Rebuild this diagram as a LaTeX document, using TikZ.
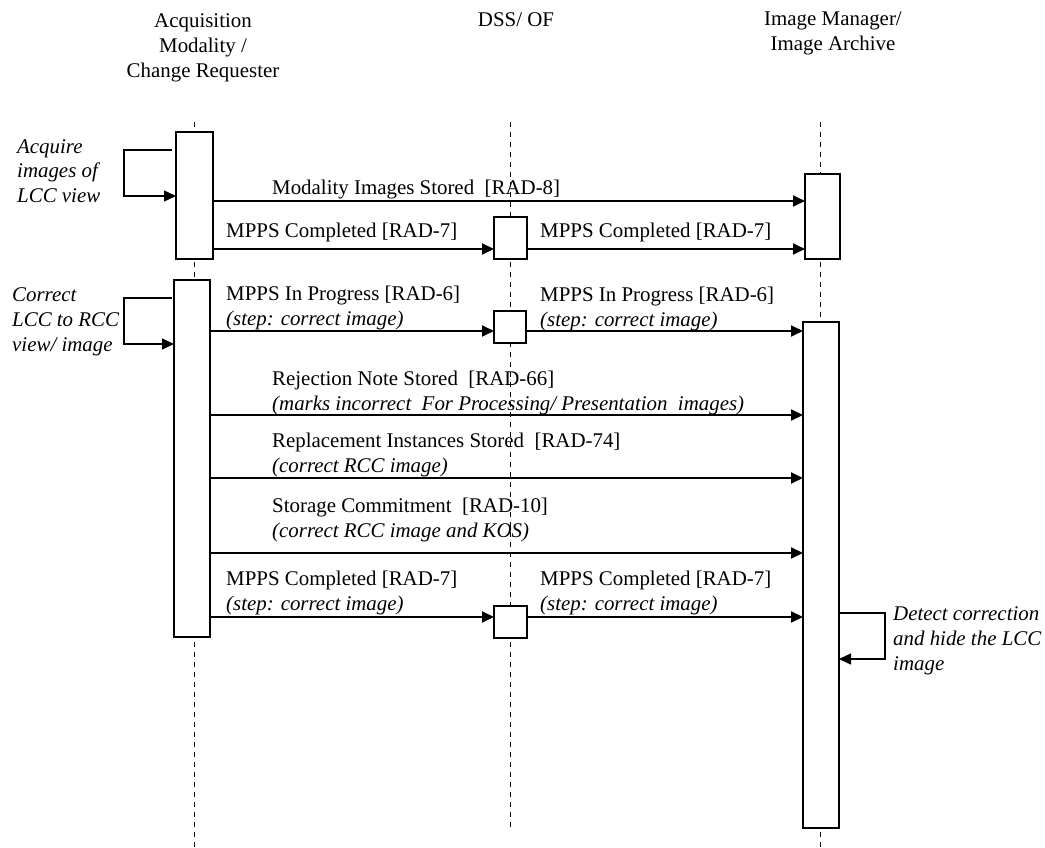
\documentclass[tikz,border=0pt]{standalone}
\usepackage{fontspec}
\setmainfont{Liberation Serif}
\usetikzlibrary{arrows.meta}
\newcommand\seqfont{\fontsize{20.9}{25}\selectfont}
\tikzset{
  lifeline/.style={line width=1pt, dash pattern=on 5pt off 5pt},
  actbox/.style={draw, fill=white, line width=1.3pt, anchor=north west, inner sep=0pt, outer sep=0pt},
  msg/.style={line width=1.8pt, -{Triangle[length=12pt,width=11pt]}},
  selfmsg/.style={line width=1.3pt, -{Triangle[length=12pt,width=11pt]}},
  lbl/.style={anchor=base west, inner sep=0pt, font=\seqfont, align=left},
  note/.style={lbl, font=\seqfont\itshape},
  head/.style={anchor=base, inner sep=0pt, font=\seqfont, align=center},
}
\begin{document}
\begin{tikzpicture}[x=1pt, y=-1pt]
  \useasboundingbox (0,0) rectangle (1045,848);
  % lifelines
  \coordinate (laneA) at (194.5,122);
  \coordinate (laneD) at (510,122);
  \coordinate (laneI) at (820,122);
  \draw[lifeline] (laneA) -- ++(0,726);
  \draw[lifeline] (laneD) -- ++(0,708);
  \draw[lifeline] (laneI) -- ++(0,726);
  % multi-line nodes are placed at the baseline of their last line
  \node[head] (hA) at (203,78) {Acquisition\\Modality /\\Change Requester};
  \node[head] (hD) at (516,27) {DSS/ OF};
  \node[head] (hI) at (833,51) {Image Manager/\\Image Archive};
  % activation boxes
  \node[actbox, minimum width=37pt, minimum height=127pt] (a1) at (176,132) {};
  \node[actbox, minimum width=36pt, minimum height=357pt] (a2) at (174,280) {};
  \node[actbox, minimum width=33pt, minimum height=42pt] (d1) at (494,217) {};
  \node[actbox, minimum width=32pt, minimum height=32pt] (d2) at (494,311) {};
  \node[actbox, minimum width=33pt, minimum height=32pt] (d3) at (494,606) {};
  \node[actbox, minimum width=35pt, minimum height=85pt] (i1) at (805,174) {};
  \node[actbox, minimum width=36pt, minimum height=506pt] (i2) at (803,322) {};
  % messages
  \foreach \n/\y in {m1/201, m2/249, m3/331, m4/415, m5/478, m6/553, m7/617}
    \coordinate (\n) at (0,\y);
  \draw[msg] (a1.east |- m1) -- (i1.west |- m1);
  \draw[msg] (a1.east |- m2) -- (d1.west |- m2);
  \draw[msg] (d1.east |- m2) -- (i1.west |- m2);
  \draw[msg] (a2.east |- m3) -- (d2.west |- m3);
  \draw[msg] (d2.east |- m3) -- (i2.west |- m3);
  \draw[msg] (a2.east |- m4) -- (i2.west |- m4);
  \draw[msg] (a2.east |- m5) -- (i2.west |- m5);
  \draw[msg] (a2.east |- m6) -- (i2.west |- m6);
  \draw[msg] (a2.east |- m7) -- (d3.west |- m7);
  \draw[msg] (d3.east |- m7) -- (i2.west |- m7);
  \node[lbl] (l1) at (272,195) {Modality Images Stored~ [RAD-8]};
  \node[lbl] (l2) at (226,237) {MPPS Completed [RAD-7]};
  \node[lbl] (l2b) at (540,237) {MPPS Completed [RAD-7]};
  \node[lbl] (l3) at (226,325) {MPPS In Progress [RAD-6]\\\textit{(step: correct image)}};
  \node[lbl] (l3b) at (540,326) {MPPS In Progress [RAD-6]\\\textit{(step: correct image)}};
  \node[lbl] (l4) at (272,410) {Rejection Note Stored~ [RAD-66]\\\textit{(marks incorrect~ For Processing/ Presentation~ images)}};
  \node[lbl] (l5) at (272,472) {Replacement Instances Stored~ [RAD-74]\\\textit{(correct RCC image)}};
  \node[lbl] (l6) at (272,537) {Storage Commitment~ [RAD-10]\\\textit{(correct RCC image and KOS)}};
  \node[lbl] (l7) at (226,610) {MPPS Completed [RAD-7]\\\textit{(step: correct image)}};
  \node[lbl] (l7b) at (540,610) {MPPS Completed [RAD-7]\\\textit{(step: correct image)}};
  % self messages
  \coordinate (acq) at (172,150);
  \coordinate (cor) at (172,298);
  \coordinate (det) at (838,613);
  \draw[selfmsg] (acq) -- ++(-48,0) |- (a1.west |- 0,196);
  \draw[selfmsg] (cor) -- ++(-48,0) |- (a2.west |- 0,344);
  \draw[selfmsg] (det) -- ++(47,0) |- (i2.east |- 0,659);
  \node[note] (n1) at (17,203) {Acquire\\images of\\LCC view};
  \node[note] (n2) at (12,351) {Correct\\LCC to RCC\\view/ image};
  \node[note] (n3) at (893,670) {Detect correction\\and hide the LCC\\image};
\end{tikzpicture}
\end{document}
